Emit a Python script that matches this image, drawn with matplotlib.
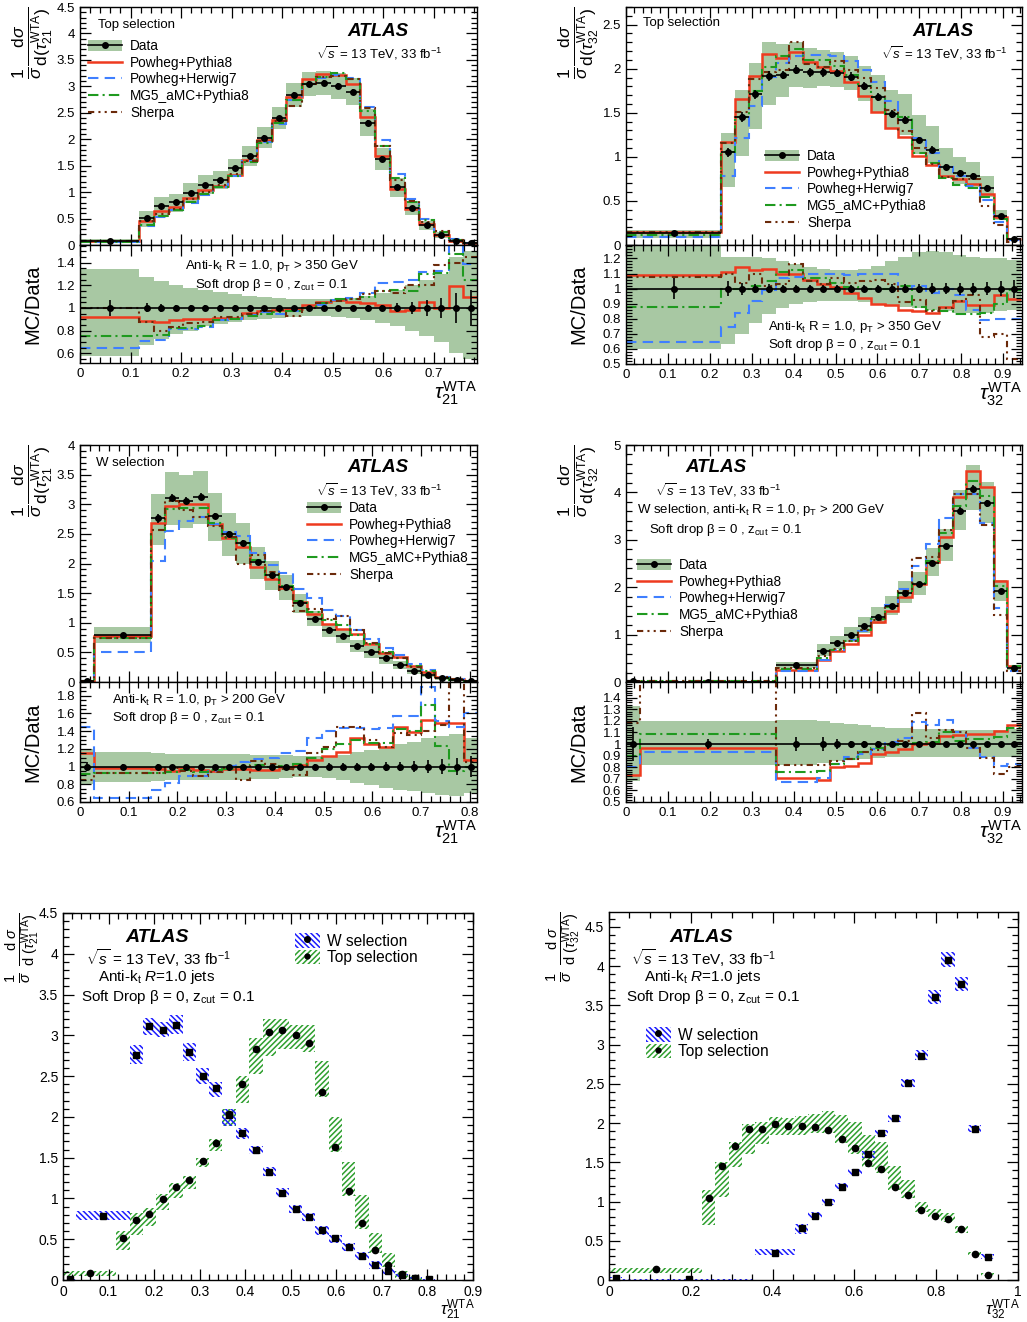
import numpy as np
import matplotlib
matplotlib.use('Agg')
import matplotlib.pyplot as plt
from matplotlib.patches import Patch
from matplotlib.lines import Line2D
from matplotlib.ticker import MultipleLocator, FormatStrFormatter

plt.rcParams['font.family'] = ['Liberation Sans', 'DejaVu Sans']
plt.rcParams['mathtext.fontset'] = 'custom'
plt.rcParams['mathtext.rm'] = 'Liberation Sans'
plt.rcParams['mathtext.it'] = 'Liberation Sans:italic'
plt.rcParams['mathtext.bf'] = 'Liberation Sans:bold'
plt.rcParams['hatch.linewidth'] = 1.1

# ---------------- top selection, tau21 ----------------
t21_edges = [0, 0.117, 0.146, 0.175, 0.204, 0.233, 0.263, 0.292, 0.321, 0.350, 0.379, 0.408,
             0.438, 0.467, 0.496, 0.525, 0.554, 0.583, 0.613, 0.642, 0.671, 0.700, 0.729, 0.758, 0.788]
t21_data = [0.08, 0.51, 0.73, 0.81, 0.99, 1.14, 1.23, 1.46, 1.68, 2.03, 2.40, 2.83, 3.04, 3.06,
            3.01, 2.90, 2.31, 1.63, 1.09, 0.70, 0.37, 0.19, 0.07, 0.03]
t21_stat = [0.07, 0.04, 0.035, 0.03, 0.03, 0.03, 0.03, 0.025, 0.025, 0.02, 0.02, 0.02, 0.02, 0.02,
            0.02, 0.02, 0.025, 0.03, 0.04, 0.05, 0.07, 0.09, 0.13, 0.16]
t21_up = [1.34, 1.27, 1.24, 1.20, 1.18, 1.16, 1.14, 1.12, 1.11, 1.10, 1.09, 1.08, 1.075, 1.075,
          1.08, 1.09, 1.11, 1.13, 1.16, 1.20, 1.25, 1.30, 1.45, 1.50]
t21_dn = [0.58, 0.67, 0.73, 0.77, 0.80, 0.84, 0.86, 0.88, 0.89, 0.90, 0.91, 0.92, 0.925, 0.925,
          0.92, 0.91, 0.89, 0.87, 0.84, 0.80, 0.75, 0.70, 0.60, 0.55]
t21_pp8 = [0.92, 0.885, 0.88, 0.89, 0.90, 0.905, 0.91, 0.91, 0.955, 0.975, 0.985, 0.99, 1.03, 1.055,
           1.07, 1.05, 1.045, 1.03, 0.975, 0.985, 1.05, 1.0, 1.19, 1.10]
t21_ph7 = [0.65, 0.71, 0.72, 0.81, 0.81, 0.83, 0.89, 0.90, 0.94, 0.96, 0.95, 0.97, 1.0, 1.03,
           1.07, 1.09, 1.13, 1.22, 1.23, 1.25, 1.32, 1.33, 1.60, 1.39]
t21_mg5 = [0.75, 0.75, 0.76, 0.82, 0.82, 0.84, 0.89, 0.90, 0.93, 0.95, 0.96, 0.97, 1.00, 1.04,
           1.08, 1.08, 1.10, 1.15, 1.16, 1.15, 1.30, 1.31, 1.48, 1.25]
t21_sh = [1.0, 0.88, 0.80, 0.83, 0.87, 0.88, 0.92, 0.92, 0.95, 0.97, 0.98, 0.93, 1.0, 1.04,
          1.06, 1.08, 1.12, 1.15, 1.13, 1.20, 1.20, 1.38, 1.40, 1.45]
t21_box_lo = [0.05, 0.37, 0.55, 0.66, 0.86, 1.01, 1.11, 1.38, 1.58, 1.89, 2.17, 2.53, 2.75, 2.83,
              2.83, 2.79, 2.24, 1.57, 1.03, 0.62, 0.33, 0.16, 0.03, 0.0]
t21_box_hi = [0.11, 0.60, 0.82, 0.88, 1.05, 1.19, 1.28, 1.50, 1.73, 2.10, 2.50, 2.97, 3.20, 3.20,
              3.13, 3.13, 2.68, 2.00, 1.45, 1.04, 0.58, 0.33, 0.115, 0.05]

# ---------------- top selection, tau32 ----------------
t32_edges = [0, 0.2275, 0.26, 0.2925, 0.325, 0.3575, 0.39, 0.4225, 0.455, 0.4875, 0.52, 0.5525,
             0.585, 0.6175, 0.65, 0.6825, 0.715, 0.7475, 0.78, 0.8125, 0.845, 0.8775, 0.91, 0.9425]
t32_data = [0.136, 1.05, 1.45, 1.71, 1.92, 1.93, 1.99, 1.96, 1.96, 1.95, 1.91, 1.80, 1.68, 1.49,
            1.42, 1.19, 1.08, 0.89, 0.82, 0.78, 0.65, 0.33, 0.07]
t32_stat = [0.07, 0.05, 0.04, 0.03, 0.03, 0.025, 0.025, 0.025, 0.025, 0.025, 0.025, 0.025, 0.025,
            0.03, 0.03, 0.03, 0.035, 0.035, 0.04, 0.04, 0.045, 0.05, 0.06]
t32_up = [1.28, 1.21, 1.21, 1.21, 1.20, 1.18, 1.16, 1.14, 1.13, 1.12, 1.12, 1.13, 1.15, 1.18,
          1.21, 1.24, 1.25, 1.24, 1.22, 1.21, 1.20, 1.20, 1.19]
t32_dn = [0.60, 0.63, 0.70, 0.77, 0.83, 0.87, 0.90, 0.91, 0.92, 0.92, 0.92, 0.91, 0.90, 0.89,
          0.88, 0.87, 0.86, 0.85, 0.84, 0.84, 0.84, 0.85, 0.86]
t32_pp8 = [1.09, 1.11, 1.14, 1.12, 1.13, 1.10, 1.10, 1.06, 1.03, 1.01, 0.97, 0.94, 0.90, 0.89,
           0.86, 0.85, 0.84, 0.875, 0.92, 0.89, 0.89, 0.955, 0.93]
t32_ph7 = [0.645, 0.745, 0.84, 0.92, 0.99, 1.07, 1.08, 1.10, 1.10, 1.10, 1.09, 1.10, 1.10, 1.10,
           1.00, 1.02, 0.97, 1.0, 0.96, 0.86, 0.79, 0.80, 0.80]
t32_mg5 = [0.875, 1.0, 1.0, 1.02, 1.05, 1.11, 1.12, 1.07, 1.07, 1.04, 1.01, 1.0, 1.0, 1.0,
           1.02, 0.88, 0.86, 0.85, 0.83, 0.83, 0.84, 0.90, 0.99]
t32_sh = [1.08, 1.10, 1.04, 1.10, 1.02, 1.03, 1.16, 1.05, 1.03, 1.07, 1.04, 1.05, 1.06, 1.03,
          0.91, 0.925, 0.85, 0.87, 0.92, 0.96, 0.68, 0.70, 0.53]
t32_box_lo = [0.085, 0.70, 1.06, 1.44, 1.60, 1.73, 1.85, 1.85, 1.85, 1.87, 1.87, 1.74, 1.61, 1.44,
              1.36, 1.15, 1.04, 0.87, 0.80, 0.74, 0.60, 0.32, 0.05]
t32_box_hi = [0.15, 1.15, 1.51, 1.76, 1.99, 2.02, 2.08, 2.06, 2.09, 2.12, 2.16, 2.10, 2.02, 1.85,
              1.76, 1.45, 1.28, 1.00, 0.91, 0.85, 0.69, 0.36, 0.085]

# ---------------- W selection, tau21 ----------------
w21_edges = [0, 0.029, 0.146, 0.175, 0.204, 0.233, 0.263, 0.292, 0.321, 0.350, 0.379, 0.408, 0.438,
             0.467, 0.496, 0.525, 0.554, 0.583, 0.613, 0.642, 0.671, 0.700, 0.729, 0.758, 0.788, 0.817]
w21_data = [0.01, 0.79, 2.76, 3.11, 3.06, 3.13, 2.80, 2.50, 2.35, 2.02, 1.80, 1.60, 1.33, 1.07,
            0.87, 0.77, 0.61, 0.51, 0.40, 0.29, 0.19, 0.11, 0.06, 0.03, 0.01]
w21_stat = [0.05, 0.03, 0.025, 0.02, 0.02, 0.02, 0.02, 0.02, 0.02, 0.02, 0.02, 0.02, 0.025, 0.03,
            0.035, 0.04, 0.04, 0.045, 0.05, 0.055, 0.06, 0.07, 0.08, 0.10, 0.12]
w21_up = [1.2, 1.17, 1.15, 1.14, 1.14, 1.14, 1.14, 1.14, 1.14, 1.13, 1.13, 1.13, 1.12, 1.12,
          1.12, 1.13, 1.16, 1.19, 1.22, 1.25, 1.28, 1.32, 1.35, 1.37, 1.32]
w21_dn = [0.8, 0.83, 0.84, 0.85, 0.85, 0.85, 0.85, 0.85, 0.85, 0.86, 0.86, 0.87, 0.88, 0.88,
          0.87, 0.85, 0.82, 0.79, 0.76, 0.74, 0.72, 0.70, 0.68, 0.67, 0.70]
w21_pp8 = [1.15, 0.985, 0.97, 0.955, 0.98, 0.96, 0.955, 0.97, 0.97, 0.965, 0.965, 0.99, 1.02, 1.075,
           1.12, 1.16, 1.32, 1.25, 1.22, 1.45, 1.39, 1.53, 1.49, 1.49, 1.07]
w21_ph7 = [1.45, 0.65, 0.74, 0.82, 0.89, 0.89, 0.95, 1.01, 1.05, 1.08, 1.10, 1.15, 1.18, 1.32,
           1.40, 1.44, 1.44, 1.42, 1.43, 1.57, 1.57, 1.90, 1.52, 1.45, 1.60]
w21_mg5 = [0.92, 0.93, 0.93, 0.94, 0.96, 0.94, 0.96, 0.97, 1.0, 1.02, 1.0, 1.01, 1.03, 1.10,
           1.20, 1.25, 1.30, 1.27, 1.27, 1.42, 1.40, 1.70, 1.23, 0.95, 1.0]
w21_sh = [0.85, 0.93, 0.93, 0.98, 0.95, 0.89, 0.94, 0.98, 0.85, 1.06, 1.03, 0.97, 0.90, 1.15,
          1.22, 1.45, 1.45, 1.30, 1.22, 1.38, 1.36, 1.40, 1.47, 1.95, 1.05]
w21_box_lo = [0.005, 0.73, 2.65, 3.01, 2.98, 3.02, 2.69, 2.40, 2.25, 1.89, 1.73, 1.54, 1.28, 1.02,
              0.82, 0.72, 0.55, 0.45, 0.35, 0.24, 0.14, 0.07, 0.04, 0.01, 0.005]
w21_box_hi = [0.015, 0.84, 2.88, 3.21, 3.16, 3.25, 2.91, 2.60, 2.43, 2.10, 1.86, 1.64, 1.39, 1.13,
              0.92, 0.82, 0.66, 0.55, 0.45, 0.34, 0.23, 0.14, 0.07, 0.04, 0.015]

# ---------------- W selection, tau32 ----------------
w32_edges = [0, 0.0325, 0.3575, 0.455, 0.4875, 0.52, 0.5525, 0.585, 0.6175, 0.65, 0.6825, 0.715,
             0.7475, 0.78, 0.8125, 0.845, 0.8775, 0.91, 0.9425]
w32_data = [0.02, 0.01, 0.35, 0.66, 0.82, 0.99, 1.19, 1.38, 1.60, 1.87, 2.06, 2.51, 2.86, 3.61,
            4.08, 3.77, 1.92, 0.29]
w32_stat = [0.15, 0.04, 0.06, 0.06, 0.04, 0.03, 0.03, 0.025, 0.02, 0.02, 0.02, 0.02, 0.02, 0.02,
            0.02, 0.02, 0.02, 0.02]
w32_up = [1.33, 1.20, 1.21, 1.20, 1.18, 1.17, 1.16, 1.15, 1.14, 1.14, 1.13, 1.13, 1.13, 1.12,
          1.12, 1.12, 1.12, 1.13]
w32_dn = [0.68, 0.82, 0.82, 0.84, 0.85, 0.86, 0.87, 0.88, 0.89, 0.89, 0.89, 0.89, 0.89, 0.89,
          0.89, 0.89, 0.89, 0.89]
w32_pp8 = [0.73, 0.97, 0.71, 0.69, 0.80, 0.81, 0.84, 0.91, 0.93, 0.96, 1.0, 1.01, 1.07, 1.08,
           1.09, 1.09, 1.11, 1.16]
w32_ph7 = [0.80, 0.93, 0.67, 0.71, 0.83, 0.89, 0.91, 0.96, 1.02, 1.05, 1.19, 1.16, 1.21, 1.10,
           0.97, 0.89, 0.81, 0.83]
w32_mg5 = [0.9, 1.09, 0.76, 0.77, 0.83, 0.87, 0.93, 0.97, 0.99, 1.0, 1.01, 1.02, 1.10, 1.03,
           1.04, 1.04, 1.06, 1.14]
w32_sh = [1.18, 1.8, 0.82, 0.82, 0.85, 0.87, 0.93, 0.95, 1.0, 1.03, 1.27, 1.05, 1.12, 1.10,
          0.97, 0.88, 0.74, 0.80]
w32_box_lo = [0.02, 0.005, 0.32, 0.59, 0.79, 0.96, 1.16, 1.34, 1.56, 1.83, 2.02, 2.46, 2.80, 3.52,
              3.99, 3.68, 1.88, 0.27]
w32_box_hi = [0.04, 0.015, 0.39, 0.71, 0.87, 1.03, 1.24, 1.42, 1.65, 1.91, 2.10, 2.56, 2.93, 3.69,
              4.18, 3.86, 1.97, 0.33]

model_names = ['Powheg+Pythia8', 'Powheg+Herwig7', 'MG5_aMC+Pythia8', 'Sherpa']
model_cols = ['#ee3a1f', '#3f7fff', '#1f9a1f', '#6b2a0a']
model_ls = ['-', (0, (5, 3)), (0, (5, 2, 1, 2)), (0, (3, 2, 1, 2, 1, 2))]
model_lw = [1.8, 1.5, 1.5, 1.5]
band_col = '#a8c8a3'

W, H = 1027, 1322
fig = plt.figure(figsize=(W / 100, H / 100), dpi=100)


def rect(l, r, t, b):
    return [l / W, 1 - b / H, (r - l) / W, (b - t) / H]


def txt(px, py, s, size=9.5, ha='left', **kw):
    fig.text(px / W, 1 - py / H, s, fontsize=size, ha=ha, va='center', **kw)


def style(ax, xmaj, xmin, ymaj, ymin):
    ax.xaxis.set_major_locator(MultipleLocator(xmaj))
    ax.xaxis.set_minor_locator(MultipleLocator(xmin))
    ax.yaxis.set_major_locator(MultipleLocator(ymaj))
    ax.yaxis.set_minor_locator(MultipleLocator(ymin))
    ax.xaxis.set_major_formatter(FormatStrFormatter('%g'))
    ax.yaxis.set_major_formatter(FormatStrFormatter('%g'))
    ax.tick_params(which='both', direction='in', top=True, right=True, labelsize=9.5)
    ax.tick_params(which='major', length=8, width=0.9)
    ax.tick_params(which='minor', length=4, width=0.9)
    for s in ax.spines.values():
        s.set_linewidth(1.0)


def pair(main, ratio, edges, data, stat, up, dn, mc, xmax, ymax, rlim, ymaj, ymin, rmaj, rmin,
         xlab, ylab):
    e = np.array(edges)
    d = np.array(data)
    c = 0.5 * (e[1:] + e[:-1])
    hw = 0.5 * np.diff(e)
    up = np.array(up)
    dn = np.array(dn)
    stat = np.array(stat)
    ax = fig.add_axes(rect(*main))
    ar = fig.add_axes(rect(*ratio))
    ax.stairs(d * up, e, baseline=d * dn, fill=True, color=band_col, lw=0)
    ar.stairs(up, e, baseline=dn, fill=True, color=band_col, lw=0)
    for r, col, ls, lw in zip(mc, model_cols, model_ls, model_lw):
        r = np.array(r)
        ax.stairs(d * r, e, baseline=None, color=col, ls=ls, lw=lw)
        ar.stairs(r, e, baseline=None, color=col, ls=ls, lw=lw)
    ax.errorbar(c, d, xerr=hw, yerr=d * stat, fmt='o', color='k', ms=4, lw=1.2, capsize=0, zorder=5)
    ar.axhline(1, color='k', lw=1.2, zorder=4)
    ar.errorbar(c, np.ones_like(d), yerr=stat, fmt='o', color='k', ms=4, lw=1.2, capsize=0, zorder=5)
    ax.set_xlim(0, xmax)
    ar.set_xlim(0, xmax)
    ax.set_ylim(0, ymax)
    ar.set_ylim(*rlim)
    style(ax, 0.1, 0.02, ymaj, ymin)
    style(ar, 0.1, 0.02, rmaj, rmin)
    ax.tick_params(labelbottom=False)
    ax.set_ylabel(ylab, fontsize=18, loc='top')
    ax.yaxis.set_label_coords(-0.063, 1.0)
    ar.set_ylabel('MC/Data', fontsize=14.5)
    ar.yaxis.set_label_coords(-0.095, 0.5)
    ar.set_xlabel(xlab, fontsize=15, loc='right')
    ar.xaxis.set_label_coords(1.0, -0.14)
    handles = [(Patch(facecolor=band_col, edgecolor='none'),
                Line2D([], [], color='k', marker='o', ms=4, lw=1.2))]
    handles += [Line2D([], [], color=col, ls=ls, lw=lw)
                for col, ls, lw in zip(model_cols, model_ls, model_lw)]
    return ax, ar, handles


def main_legend(ax, handles, px, py):
    ax.legend(handles, ['Data'] + model_names, loc='upper left',
              bbox_to_anchor=(px / W, 1 - py / H), bbox_transform=fig.transFigure,
              frameon=False, fontsize=9.8, handlelength=2.5, handleheight=0.9,
              handletextpad=0.6, labelspacing=0.2, borderpad=0, borderaxespad=0)


lab21 = r'$\tau_{21}^{\rm WTA}$'
lab32 = r'$\tau_{32}^{\rm WTA}$'
ylab21 = r'$\frac{1}{\sigma}\frac{{\rm d}\sigma}{{\rm d}(\tau_{21}^{\rm WTA})}$'
ylab32 = r'$\frac{1}{\sigma}\frac{{\rm d}\sigma}{{\rm d}(\tau_{32}^{\rm WTA})}$'
atlas = dict(fontweight='bold', style='italic')

# top-left: top selection tau21
ax1, ar1, h1 = pair((80, 477, 7, 245), (80, 477, 245, 363), t21_edges, t21_data, t21_stat,
                    t21_up, t21_dn, [t21_pp8, t21_ph7, t21_mg5, t21_sh], 0.785, 4.5,
                    (0.514, 1.556), 0.5, 0.1, 0.2, 0.05, lab21, ylab21)
main_legend(ax1, h1, 88, 39)
txt(98, 25, 'Top selection')
txt(347, 31, 'ATLAS', size=13.5, **atlas)
txt(443, 53, r'$\sqrt{s}$ = 13 TeV, 33 fb$^{-1}$', ha='right')
txt(272, 266, r'Anti-k$_{\rm t}$ R = 1.0, p$_{\rm T}$ > 350 GeV', ha='center')
txt(272, 285, r'Soft drop β = 0 , z$_{\rm cut}$ = 0.1', ha='center')

# top-right: top selection tau32
ax2, ar2, h2 = pair((626, 1022, 7, 245), (626, 1022, 245, 364), t32_edges, t32_data, t32_stat,
                    t32_up, t32_dn, [t32_pp8, t32_ph7, t32_mg5, t32_sh], 0.945, 2.7,
                    (0.5, 1.289), 0.5, 0.1, 0.1, 0.02, lab32, ylab32)
main_legend(ax2, h2, 765, 149)
txt(643, 23, 'Top selection')
txt(912, 32, 'ATLAS', size=13.5, **atlas)
txt(1008, 53, r'$\sqrt{s}$ = 13 TeV, 33 fb$^{-1}$', ha='right')
txt(768, 327, r'Anti-k$_{\rm t}$ R = 1.0, p$_{\rm T}$ > 350 GeV')
txt(768, 345, r'Soft drop β = 0 , z$_{\rm cut}$ = 0.1')

# middle-left: W selection tau21
ax3, ar3, h3 = pair((80, 477, 445, 682), (80, 477, 682, 802), w21_edges, w21_data, w21_stat,
                    w21_up, w21_dn, [w21_pp8, w21_ph7, w21_mg5, w21_sh], 0.815, 4.0,
                    (0.6, 1.955), 0.5, 0.1, 0.2, 0.05, lab21, ylab21)
main_legend(ax3, h3, 307, 501)
txt(96, 463, 'W selection')
txt(347, 468, 'ATLAS', size=13.5, **atlas)
txt(443, 490, r'$\sqrt{s}$ = 13 TeV, 33 fb$^{-1}$', ha='right')
txt(112, 700, r'Anti-k$_{\rm t}$ R = 1.0, p$_{\rm T}$ > 200 GeV')
txt(112, 718, r'Soft drop β = 0 , z$_{\rm cut}$ = 0.1')

# middle-right: W selection tau32
ax4, ar4, h4 = pair((626, 1022, 445, 682), (626, 1022, 682, 802), w32_edges, w32_data, w32_stat,
                    w32_up, w32_dn, [w32_pp8, w32_ph7, w32_mg5, w32_sh], 0.945, 5.0,
                    (0.5, 1.535), 1.0, 0.2, 0.1, 0.02, lab32, ylab32)
ar4.set_yticks(np.arange(0.5, 1.45, 0.1))
main_legend(ax4, h4, 637, 558)
txt(685, 468, 'ATLAS', size=13.5, **atlas)
txt(782, 490, r'$\sqrt{s}$ = 13 TeV, 33 fb$^{-1}$', ha='right')
txt(637, 510, r'W selection, anti-k$_{\rm t}$ R = 1.0, p$_{\rm T}$ > 200 GeV')
txt(649, 530, r'Soft drop β = 0 , z$_{\rm cut}$ = 0.1')


# bottom row: W vs top comparison
w_col, t_col = '#1c1cff', '#2f9f2f'
w_hatch, t_hatch = '\\\\\\\\\\\\', '//////'


def summary(box, series, xmax, ymax, xmaj, xmin, xlab, ylab, ylx):
    ax = fig.add_axes(rect(*box))
    for edges, vals, lo, hi, col, hatch, mk, ms in series:
        e = np.array(edges)
        lo = np.array(lo)
        hi = np.array(hi)
        ax.bar(e[:-1], hi - lo, width=np.diff(e), bottom=lo, align='edge', facecolor='none',
               edgecolor=col, hatch=hatch, lw=0)
        ax.plot(0.5 * (e[1:] + e[:-1]), vals, ls='none', marker=mk, ms=ms, color='k', zorder=5)
    ax.set_xlim(0, xmax)
    ax.set_ylim(0, ymax)
    style(ax, xmaj, xmin, 0.5, 0.1)
    ax.tick_params(labelsize=10)
    ax.set_xlabel(xlab, fontsize=12, loc='right')
    ax.xaxis.set_label_coords(1.005, -0.048)
    ax.set_ylabel(ylab, fontsize=15, loc='top')
    ax.yaxis.set_label_coords(ylx, 1.0)
    handles = [(Patch(facecolor='none', edgecolor=w_col, hatch=w_hatch, lw=0),
                Line2D([], [], ls='none', marker='o', ms=4, color='k')),
               (Patch(facecolor='none', edgecolor=t_col, hatch=t_hatch, lw=0),
                Line2D([], [], ls='none', marker='o', ms=3.5, color='k'))]
    return ax, handles


def sum_legend(ax, handles, px, py):
    ax.legend(handles, ['W selection', 'Top selection'], loc='upper left',
              bbox_to_anchor=(px / W, 1 - py / H), bbox_transform=fig.transFigure,
              frameon=False, fontsize=11.2, handlelength=1.6, handleheight=1.1,
              handletextpad=0.45, labelspacing=0.05, borderpad=0, borderaxespad=0)


sylab21 = r'$\frac{1}{\sigma}\ \frac{{\rm d}\ \sigma}{{\rm d}\ (\tau_{21}^{\rm WTA})}$'
sylab32 = r'$\frac{1}{\sigma}\ \frac{{\rm d}\ \sigma}{{\rm d}\ (\tau_{32}^{\rm WTA})}$'

ax5, h5 = summary((63, 473, 913, 1280),
                  [(t21_edges, t21_data, t21_box_lo, t21_box_hi, t_col, t_hatch, 'o', 4.5),
                   (w21_edges, w21_data, w21_box_lo, w21_box_hi, w_col, w_hatch, 's', 5)],
                  0.9, 4.5, 0.1, 0.02, lab21, sylab21, -0.052)
sum_legend(ax5, h5, 295, 933)
txt(157, 937, 'ATLAS', size=14, ha='center', **atlas)
txt(158, 958, r'$\sqrt{s}$ = 13 TeV, 33 fb$^{-1}$', size=11, ha='center')
txt(157, 977, r'Anti-k$_{\rm t}$ $R$=1.0 jets', size=11, ha='center')
txt(168, 997, r'Soft Drop β = 0, z$_{\rm cut}$ = 0.1', size=11, ha='center')

ax6, h6 = summary((609, 1018, 912, 1280),
                  [(t32_edges, t32_data, t32_box_lo, t32_box_hi, t_col, t_hatch, 'o', 4.5),
                   (w32_edges, w32_data, w32_box_lo, w32_box_hi, w_col, w_hatch, 's', 5)],
                  1.0, 4.69, 0.2, 0.05, lab32, sylab32, -0.064)
sum_legend(ax6, h6, 646, 1027)
txt(701, 937, 'ATLAS', size=14, ha='center', **atlas)
txt(703, 958, r'$\sqrt{s}$ = 13 TeV, 33 fb$^{-1}$', size=11, ha='center')
txt(703, 977, r'Anti-k$_{\rm t}$ $R$=1.0 jets', size=11, ha='center')
txt(713, 997, r'Soft Drop β = 0, z$_{\rm cut}$ = 0.1', size=11, ha='center')

fig.savefig('out.png', dpi=100)
